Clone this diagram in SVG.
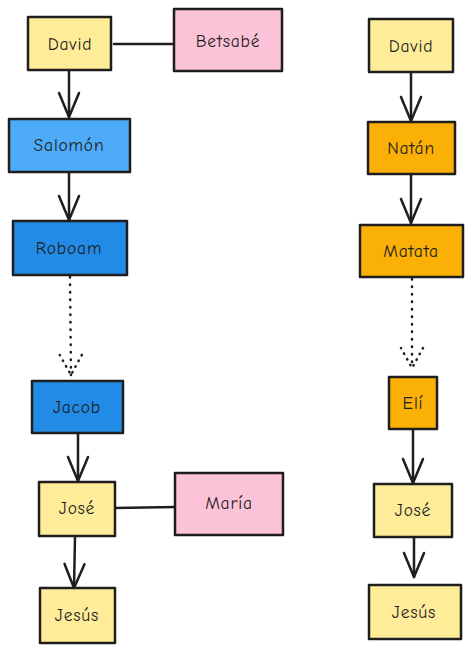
<svg xmlns="http://www.w3.org/2000/svg" width="472" height="652" viewBox="0 0 472 652">
<style>
.box{stroke:#1e1e1e;stroke-width:2.5;stroke-linejoin:round}
.yellow{fill:#ffec99}.pink{fill:#fcc2d7}.lblue{fill:#4dabf7}.blue{fill:#228be6}.orange{fill:#fab005}
text{font-family:"Comic Neue","Liberation Sans",sans-serif;font-size:17.5px;fill:#1e1e1e;text-anchor:middle;dominant-baseline:central;letter-spacing:0.8px}
.edge{fill:none;stroke:#1e1e1e;stroke-width:2.5;stroke-linecap:round}
.dot{stroke-dasharray:0.5 7}
</style>
<defs>
<marker id="arr" markerUnits="userSpaceOnUse" viewBox="-27 -13 30 26" markerWidth="30" markerHeight="26" refX="0" refY="0" orient="auto">
<path d="M-24,-10 L0,0 L-24,10" fill="none" stroke="#1e1e1e" stroke-width="2.5" stroke-linecap="round" stroke-linejoin="round"/>
</marker>
<marker id="arrdot" markerUnits="userSpaceOnUse" viewBox="-27 -13 30 26" markerWidth="30" markerHeight="26" refX="0" refY="0" orient="auto">
<path d="M-20,-11 L0,0 L-20,11" fill="none" stroke="#1e1e1e" stroke-width="2.5" stroke-linecap="round" stroke-dasharray="0.5 6"/>
</marker>
</defs>
<g id="connectors">
<path class="edge" d="M114,44 L173,44"/>
<path class="edge" d="M69,71 L69,117" marker-end="url(#arr)"/>
<path class="edge" d="M69,173 L69,220" marker-end="url(#arr)"/>
<path class="edge dot" d="M70,277 L71,375" marker-end="url(#arrdot)"/>
<path class="edge" d="M78,434 L78,481" marker-end="url(#arr)"/>
<path class="edge" d="M115,508 L175,507"/>
<path class="edge" d="M75,537 L74,588" marker-end="url(#arr)"/>
<path class="edge" d="M411,73 L411,121" marker-end="url(#arr)"/>
<path class="edge" d="M411,175 L411,223" marker-end="url(#arr)"/>
<path class="edge dot" d="M412,279 L412,368" marker-end="url(#arrdot)"/>
<path class="edge" d="M413,430 L413,483" marker-end="url(#arr)"/>
<path class="edge" d="M414,538 L414,577" marker-end="url(#arr)"/>
</g>
<g id="david1"><rect class="box yellow" x="28" y="17" width="83" height="53"/><text x="70" y="44">David</text></g>
<g id="betsabe"><rect class="box pink" x="174" y="9" width="108" height="62"/><text x="228" y="41">Betsabé</text></g>
<g id="salomon"><rect class="box lblue" x="9" y="119" width="121" height="53"/><text x="69" y="145">Salomón</text></g>
<g id="roboam"><rect class="box blue" x="13" y="221" width="114" height="54"/><text x="69" y="248">Roboam</text></g>
<g id="jacob"><rect class="box blue" x="32" y="381" width="91" height="52"/><text x="77" y="407">Jacob</text></g>
<g id="jose1"><rect class="box yellow" x="39" y="482" width="76" height="54"/><text x="77" y="508">José</text></g>
<g id="maria"><rect class="box pink" x="175" y="473" width="108" height="62"/><text x="229" y="503">María</text></g>
<g id="jesus1"><rect class="box yellow" x="40" y="588" width="75" height="55"/><text x="77" y="615">Jesús</text></g>
<g id="david2"><rect class="box yellow" x="369" y="19" width="84" height="53"/><text x="411" y="46">David</text></g>
<g id="natan"><rect class="box orange" x="368" y="122" width="87" height="52"/><text x="411" y="148">Natán</text></g>
<g id="matata"><rect class="box orange" x="360" y="225" width="103" height="52"/><text x="411" y="251">Matata</text></g>
<g id="eli"><rect class="box orange" x="389" y="377" width="48" height="52"/><text x="413" y="403">Elí</text></g>
<g id="jose2"><rect class="box yellow" x="374" y="484" width="78" height="53"/><text x="413" y="510">José</text></g>
<g id="jesus2"><rect class="box yellow" x="369" y="585" width="92" height="54"/><text x="414" y="612">Jesús</text></g>
</svg>
